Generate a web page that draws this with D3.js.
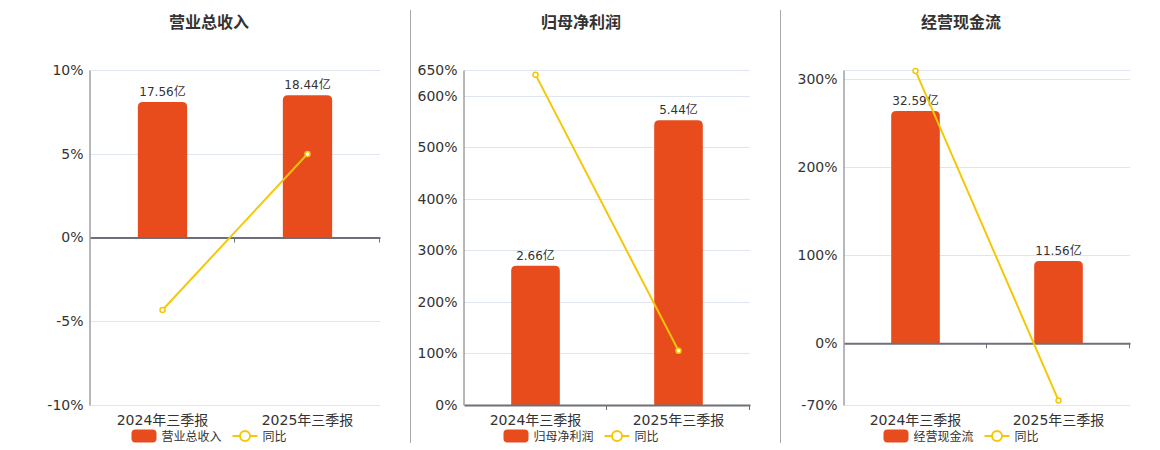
<!DOCTYPE html>
<html>
<head>
<meta charset="utf-8">
<script src="https://cdn.jsdelivr.net/npm/d3@7/dist/d3.min.js"></script>
<style>
  html, body { margin: 0; padding: 0; background: #fff; }
  svg { display: block; font-family: "DejaVu Sans", "Noto Sans CJK SC", sans-serif; }
</style>
</head>
<body>
<svg id="chart" width="1160" height="450"></svg>
<script>
// ---- data ----
const categories = ["2024年三季报", "2025年三季报"];
const titles = ["营业总收入", "归母净利润", "经营现金流"];
const lineName = "同比";

const barValues1 = [17.56, 18.44];
const barValues2 = [2.66, 5.44];
const barValues3 = [32.59, 11.56];

const yoyValues1 = [-4.33, 4.99];
const yoyValues2 = [641, 105.5];
const yoyValues3 = [309, -64.8];

const yDomain1 = [-10, 10];
const yDomain2 = [0, 650];
const yDomain3 = [-70, 310];

const gridTicks1 = [-10, -5, 0, 5, 10];
const gridTicks2 = [0, 100, 200, 300, 400, 500, 600, 650];
const gridTicks3 = [-70, 0, 100, 200, 300, 310];

const tickLabels1 = [-10, -5, 0, 5, 10];
const tickLabels2 = [0, 100, 200, 300, 400, 500, 600, 650];
const tickLabels3 = [-70, 0, 100, 200, 300];

// ---- style / layout ----
const fontFamily = "'DejaVu Sans', 'Noto Sans CJK SC', sans-serif";
const barColor = "#e84c1d";
const lineColor = "#f5c707";
const axisColor = "#6e7079";
const gridColor = "#e0e6f1";
const textColor = "#333";
const plotTop = 70, plotBottom = 405;
const panels = [
  { x0: 90, x1: 380, bars: barValues1, yoy: yoyValues1, dom: yDomain1, grid: gridTicks1, labels: tickLabels1, title: titles[0] },
  { x0: 464, x1: 750, bars: barValues2, yoy: yoyValues2, dom: yDomain2, grid: gridTicks2, labels: tickLabels2, title: titles[1] },
  { x0: 844, x1: 1130, bars: barValues3, yoy: yoyValues3, dom: yDomain3, grid: gridTicks3, labels: tickLabels3, title: titles[2] }
];
const dividers = [410.5, 780.5];

const svg = d3.select("#chart");

dividers.forEach(x => {
  svg.append("line").attr("x1", x).attr("x2", x).attr("y1", 10).attr("y2", 443)
    .attr("stroke", "#aaa").attr("stroke-width", 1);
});

function topRoundedRect(x, y, w, h, r) {
  r = Math.min(r, h, w / 2);
  return `M${x},${y + h}V${y + r}Q${x},${y} ${x + r},${y}H${x + w - r}Q${x + w},${y} ${x + w},${y + r}V${y + h}Z`;
}

panels.forEach(p => {
  const g = svg.append("g");
  const cx = (p.x0 + p.x1) / 2 - 26;

  const y = d3.scaleLinear().domain(p.dom).range([plotBottom, plotTop]);
  const x = d3.scaleBand().domain(categories).range([p.x0, p.x1]);
  const y0 = y(0);
  const barMax = d3.max(p.bars) / 0.85;
  const yb = d3.scaleLinear().domain([0, barMax]).range([y0, plotTop]);

  g.append("text").attr("x", cx).attr("y", 28).attr("text-anchor", "middle")
    .attr("font-size", 16).attr("font-weight", "bold").attr("fill", textColor)
    .attr("font-family", "'Noto Sans CJK SC', sans-serif")
    .text(p.title);

  g.selectAll(".grid").data(p.grid.filter(v => v !== 0)).enter().append("line")
    .attr("x1", p.x0).attr("x2", p.x1)
    .attr("y1", d => Math.round(y(d)) + 0.5).attr("y2", d => Math.round(y(d)) + 0.5)
    .attr("stroke", gridColor).attr("stroke-width", 1);

  const yAxis = d3.axisLeft(y).tickValues(p.labels).tickSize(0).tickPadding(6)
    .tickFormat(d => d + "%");
  const ya = g.append("g").attr("transform", `translate(${p.x0 - 0.5},0)`).call(yAxis)
    .attr("font-family", fontFamily).attr("font-size", 14);
  ya.select(".domain").attr("stroke", axisColor);
  ya.selectAll("text").attr("fill", textColor);

  const bw = x.bandwidth() * 0.34;
  g.selectAll(".bar").data(p.bars).enter().append("path")
    .attr("d", (d, i) => {
      const bx = x(categories[i]) + (x.bandwidth() - bw) / 2;
      return topRoundedRect(bx, yb(d), bw, y0 - yb(d), 5);
    })
    .attr("fill", barColor);

  g.selectAll(".blabel").data(p.bars).enter().append("text")
    .attr("x", (d, i) => x(categories[i]) + x.bandwidth() / 2)
    .attr("y", d => yb(d) - 6)
    .attr("text-anchor", "middle").attr("font-size", 12).attr("fill", textColor)
    .text(d => d.toFixed(2) + "亿");

  const xAxis = d3.axisBottom(x).tickSize(0).tickFormat(() => "");
  const xa = g.append("g").attr("transform", `translate(0,${y0})`).call(xAxis);
  xa.select(".domain").attr("stroke", axisColor).attr("stroke-width", 2);
  const bounds = categories.map(c => x(c)).concat([p.x1]).slice(1);
  g.selectAll(".btick").data(bounds).enter().append("line")
    .attr("x1", d => d - 0.5).attr("x2", d => d - 0.5)
    .attr("y1", y0).attr("y2", y0 + 5)
    .attr("stroke", axisColor).attr("stroke-width", 1);

  g.selectAll(".clabel").data(categories).enter().append("text")
    .attr("x", d => x(d) + x.bandwidth() / 2)
    .attr("y", plotBottom + 20)
    .attr("text-anchor", "middle").attr("font-size", 14).attr("fill", textColor)
    .text(d => d);

  const line = d3.line().x((d, i) => x(categories[i]) + x.bandwidth() / 2).y(d => y(d));
  g.append("path").datum(p.yoy).attr("d", line)
    .attr("fill", "none").attr("stroke", lineColor).attr("stroke-width", 2);
  g.selectAll(".pt").data(p.yoy).enter().append("circle")
    .attr("cx", (d, i) => x(categories[i]) + x.bandwidth() / 2)
    .attr("cy", d => y(d)).attr("r", 2.5)
    .attr("fill", "#fff").attr("stroke", lineColor).attr("stroke-width", 1.5);

  const legW = 155;
  const lx = cx - legW / 2;
  const ly = 436;
  const lg = g.append("g");
  lg.append("rect").attr("x", lx).attr("y", ly - 6.5).attr("width", 25).attr("height", 13)
    .attr("rx", 4).attr("fill", barColor);
  lg.append("text").attr("x", lx + 30).attr("y", ly + 4.5).attr("font-size", 12).attr("fill", textColor)
    .attr("font-family", "'Noto Sans CJK SC', sans-serif")
    .text(p.title);
  const l2 = lx + 101;
  lg.append("line").attr("x1", l2).attr("x2", l2 + 25).attr("y1", ly).attr("y2", ly)
    .attr("stroke", lineColor).attr("stroke-width", 2);
  lg.append("circle").attr("cx", l2 + 12.5).attr("cy", ly).attr("r", 5)
    .attr("fill", "#fff").attr("stroke", lineColor).attr("stroke-width", 2);
  lg.append("text").attr("x", l2 + 30).attr("y", ly + 4.5).attr("font-size", 12).attr("fill", textColor)
    .attr("font-family", "'Noto Sans CJK SC', sans-serif")
    .text(lineName);
});
</script>
</body>
</html>
